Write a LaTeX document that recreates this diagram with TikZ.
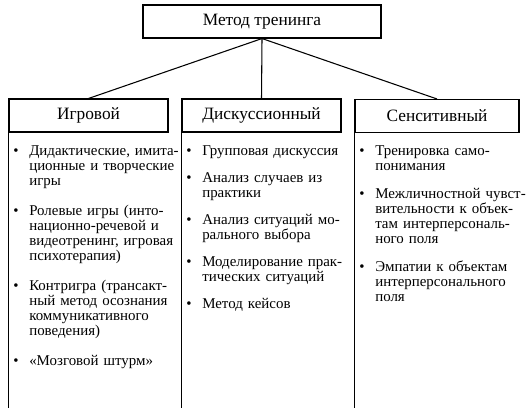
\documentclass[tikz,border=0pt]{standalone}
\usepackage{fontspec}
\setmainfont{Liberation Serif}
\newcommand{\bul}{\leavevmode\llap{\textbullet\hspace{8pt}}}

\begin{document}
\begin{tikzpicture}[x=0.75pt,y=0.75pt,yscale=-1,xscale=1,
	hdr/.style={draw, line width=0.8pt, inner sep=0.75pt, font=\fontsize{13}{15}\selectfont},
	itm/.style={anchor=base west, inner sep=0pt, align=left, text width=150pt, font=\fontsize{11.2}{11.25}\selectfont}]
	\path[use as bounding box] (0,0) rectangle (530,415);

	%Shape: Rectangle [id:method]
	\draw (262,21.5) node [hdr, minimum width=178.5pt, minimum height=24.75pt] (method) {Метод тренинга};
	%Shape: Rectangle [id:game]
	\draw (88.5,115.5) node [hdr, minimum width=119.25pt, minimum height=24.75pt] (game) {Игровой};
	%Shape: Rectangle [id:discussion]
	\draw (261.5,115.5) node [hdr, minimum width=119.25pt, minimum height=24.75pt] (discussion) {Дискуссионный};
	%Shape: Rectangle [id:sensitive]
	\draw (437,116) node [hdr, minimum width=123pt, minimum height=24.75pt] (sensitive) {Сенситивный};

	%Straight Lines
	\draw [line width=0.8pt] (method.south) -- (game.north);
	\draw [line width=0.8pt] (method.south) -- (discussion.north);
	\draw [line width=0.8pt] (method.south) -- (sensitive.north);

	%Straight Lines (column rules)
	\coordinate (bottom) at (0,408);
	\draw [line width=0.8pt] (game.south west) -- (game.south west |- bottom);
	\draw [line width=0.8pt] (discussion.south west) -- (discussion.south west |- bottom);
	\draw [line width=0.8pt] (sensitive.south west) -- (sensitive.south west |- bottom);

	% Text Node
	\draw (29,155) node [itm] (game1) {\bul Дидактические, имита-\\ционные и творческие\\игры};
	% Text Node
	\draw (29,215) node [itm] (game2) {\bul Ролевые игры (инто-\\национно-речевой и\\видеотренинг, игровая\\психотерапия)};
	% Text Node
	\draw (29,290) node [itm] (game3) {\bul Контригра (трансакт-\\ный метод осознания\\коммуникативного\\поведения)};
	% Text Node
	\draw (29,365) node [itm] (game4) {\bul «Мозговой штурм»};

	% Text Node
	\draw (202,155) node [itm] (disc1) {\bul Групповая дискуссия};
	% Text Node
	\draw (202,182) node [itm] (disc2) {\bul Анализ случаев из\\практики};
	% Text Node
	\draw (202,224) node [itm] (disc3) {\bul Анализ ситуаций мо-\\рального выбора};
	% Text Node
	\draw (202,266) node [itm] (disc4) {\bul Моделирование прак-\\тических ситуаций};
	% Text Node
	\draw (202,308) node [itm] (disc5) {\bul Метод кейсов};

	% Text Node
	\draw (375,155) node [itm] (sens1) {\bul Тренировка само-\\понимания};
	% Text Node
	\draw (375,198) node [itm] (sens2) {\bul Межличностной чувст-\\вительности к объек-\\там интерперсональ-\\ного поля};
	% Text Node
	\draw (375,271) node [itm] (sens3) {\bul Эмпатии к объектам\\интерперсонального\\поля};

\end{tikzpicture}
\end{document}
